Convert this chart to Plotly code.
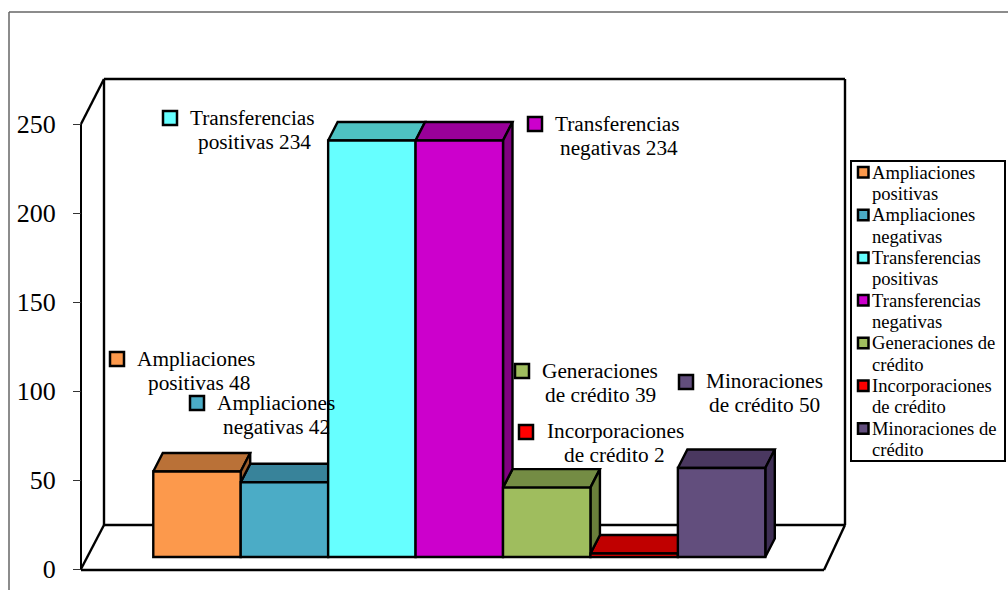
import plotly.graph_objects as go

# ---- data ----
categories = ["Ampliaciones positivas", "Ampliaciones negativas", "Transferencias positivas",
              "Transferencias negativas", "Generaciones de crédito", "Incorporaciones de crédito",
              "Minoraciones de crédito"]
values = [48, 42, 234, 234, 39, 2, 50]
y_ticks = [0, 50, 100, 150, 200, 250]
legend_lines = [["Ampliaciones", "positivas"], ["Ampliaciones", "negativas"],
                ["Transferencias", "positivas"], ["Transferencias", "negativas"],
                ["Generaciones de", "crédito"], ["Incorporaciones", "de crédito"],
                ["Minoraciones de", "crédito"]]
label_lines = [["Ampliaciones", "positivas 48"], ["Ampliaciones", "negativas 42"],
               ["Transferencias", "positivas 234"], ["Transferencias", "negativas 234"],
               ["Generaciones", "de crédito 39"], ["Incorporaciones", "de crédito 2"],
               ["Minoraciones", "de crédito 50"]]

# ---- styles ----
front = ["#FC994C", "#4BACC6", "#66FFFF", "#CC00CC", "#9FBD5E", "#FF0000", "#624E7D"]
top = ["#BA7137", "#38839A", "#4EC2C2", "#990099", "#748C44", "#C00000", "#4A3860"]
side = ["#9E5F2D", "#2F7085", "#3FA3A3", "#800080", "#6A7F3B", "#A00000", "#3F2F55"]
W, H = 1008, 590
SERIF = "Liberation Serif"
LW = 2.4

# ---- layout geometry (pixels) ----
PX_Y0, PX_Y250, PX_TOP = 569, 124, 70
UNIT_X = 87.43
CENTER0 = 197
SCALE_Y = (PX_Y0 - PX_Y250) / 250
Y_MAX = (PX_Y0 - PX_TOP) / SCALE_Y
LIFT = (PX_Y0 - 557) / SCALE_Y       # bars stand forward on the floor
DX = 9.5 / UNIT_X
DY = 18.5 / SCALE_Y

# label text centre x, first-line y, swatch left, swatch top, second-line x shift
label_pos = [(196, 359, 110, 352, 3), (276, 403, 190, 396, 0), (252.5, 118, 163, 111, 2),
             (617.5, 124, 528, 117, 1), (600, 371, 515, 364, 0), (615, 431, 519, 425, -1),
             (764, 381, 679, 375, 0)]


def px(x):
    return x / W


def py(y):
    return 1 - y / H


fig = go.Figure()
xs = list(range(len(values)))

# top and side faces, behind the fronts
for i, v in enumerate(values):
    h = LIFT + v
    l, r = i - 0.5, i + 0.5
    fig.add_trace(go.Scatter(x=[l, r, r + DX, l + DX, l], y=[h, h, h + DY, h + DY, h],
                             mode="lines", fill="toself", fillcolor=top[i], cliponaxis=False,
                             line=dict(color="black", width=LW), hoverinfo="skip", showlegend=False))
for i, v in enumerate(values):
    nxt = values[i + 1] if i + 1 < len(values) else 0
    if nxt >= v:
        continue
    h, lo = LIFT + v, LIFT + nxt
    r = i + 0.5
    fig.add_trace(go.Scatter(x=[r, r + DX, r + DX, r, r], y=[h, h + DY, lo + DY, lo, h],
                             mode="lines", fill="toself", fillcolor=side[i], cliponaxis=False,
                             line=dict(color="black", width=LW), hoverinfo="skip", showlegend=False))

# front faces on an overlaying axis pair, so they sit above the other faces
fig.add_trace(go.Bar(x=xs, y=values, base=[LIFT] * len(values), width=1, xaxis="x2", yaxis="y2",
                     marker=dict(color=front, line=dict(color="black", width=LW)),
                     hovertext=categories, hoverinfo="text", showlegend=False, cliponaxis=False))

shapes = []


def line(x0, y0, x1, y1, color="black", width=LW):
    shapes.append(dict(type="line", xref="paper", yref="paper", x0=px(x0), y0=py(y0), x1=px(x1), y1=py(y1),
                       line=dict(color=color, width=width), layer="below"))


# outer frame
line(9, 12, 1008, 12, "#666666", 1.5)
line(9, 12, 9, 590, "#666666", 1.5)
# walls and floor
line(104, 79, 845, 79)
line(104, 79, 104, 525)
line(845, 79, 845, 525)
line(104, 525, 845, 525)
line(81, 124, 104, 79)
line(81, 569, 104, 525)
line(81, 570, 824, 570)
line(824, 570, 845, 525)
line(81, 124, 81, 570, width=2)


def swatch(x, y, size, color, lw):
    shapes.append(dict(type="rect", xref="paper", yref="paper", x0=px(x), x1=px(x + size),
                       y0=py(y), y1=py(y + size), fillcolor=color,
                       line=dict(color="black", width=lw), layer="above"))


annotations = []


def text(x, y, s, size, anchor):
    annotations.append(dict(x=px(x), y=py(y), xref="paper", yref="paper", text=s, showarrow=False,
                            xanchor=anchor, yanchor="middle", align=anchor,
                            font=dict(family=SERIF, size=size, color="black"),
                            borderpad=0, borderwidth=0))


for i, lines in enumerate(label_lines):
    cx, y0, sx, sy, shift = label_pos[i]
    swatch(sx, sy, 14, front[i], 2.5)
    for j, s in enumerate(lines):
        text(cx + shift * j, y0 + 24 * j, s, 21.3, "center")

# legend
shapes.append(dict(type="rect", xref="paper", yref="paper", x0=px(851), x1=px(1005), y0=py(161), y1=py(461),
                   fillcolor="white", line=dict(color="black", width=2), layer="above"))
for i, lines in enumerate(legend_lines):
    top_y = 167 + 42.7 * i
    swatch(858, top_y, 10.5, front[i], 2.5)
    for j, s in enumerate(lines):
        text(872, top_y + 5 + 21.3 * j, s, 18.6, "left")

x_range = [(0 - CENTER0) / UNIT_X, (W - CENTER0) / UNIT_X]
y_domain = [py(PX_Y0), py(PX_TOP)]
fig.update_layout(
    width=W, height=H, autosize=False,
    margin=dict(l=0, r=0, t=0, b=0, autoexpand=False),
    paper_bgcolor="white", plot_bgcolor="rgba(0,0,0,0)",
    showlegend=False, shapes=shapes, annotations=annotations,
    xaxis=dict(range=x_range, domain=[0, 1], visible=False, fixedrange=True),
    xaxis2=dict(range=x_range, domain=[0, 1], visible=False, overlaying="x", fixedrange=True),
    yaxis=dict(range=[0, Y_MAX], domain=y_domain, anchor="free", position=px(81), side="left",
               tickmode="array", tickvals=y_ticks, ticktext=[str(t) for t in y_ticks],
               ticks="outside", ticklen=8, tickwidth=1, tickcolor="#333333", ticklabelstandoff=12,
               tickfont=dict(family=SERIF, size=26, color="black"),
               showline=False, showgrid=False, zeroline=False, fixedrange=True),
    yaxis2=dict(range=[0, Y_MAX], domain=y_domain, visible=False, overlaying="y", fixedrange=True),
)
fig.write_html("out.html", config={"displayModeBar": False},
               post_script="document.body.style.margin='0';document.body.style.overflow='hidden';")
